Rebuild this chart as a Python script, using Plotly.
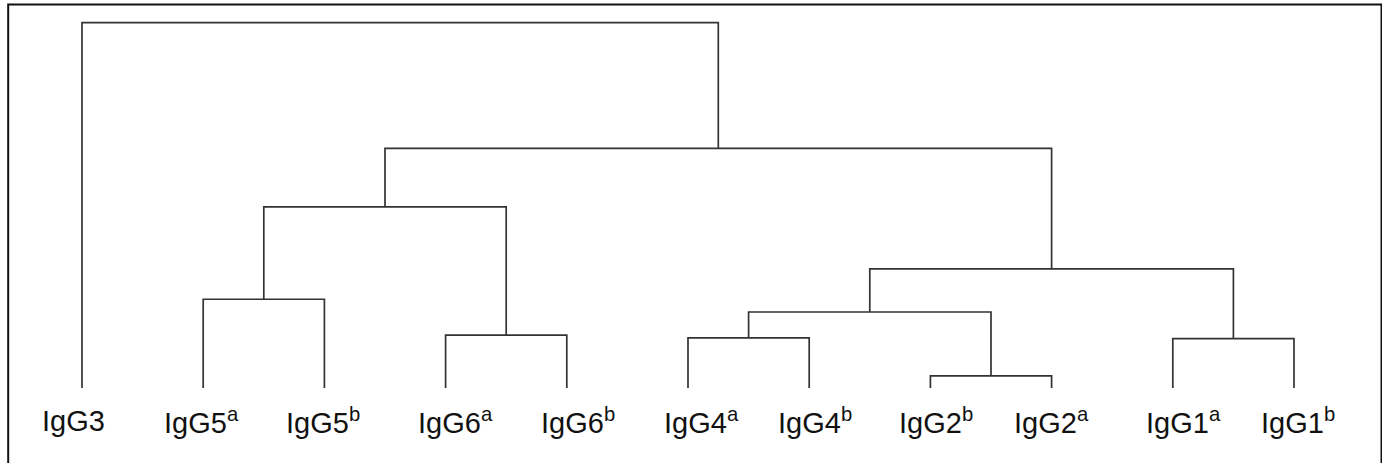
import plotly.graph_objects as go

# Leaf order (left to right) and labels
leaves = ["IgG3", "IgG5a", "IgG5b", "IgG6a", "IgG6b", "IgG4a", "IgG4b",
          "IgG2b", "IgG2a", "IgG1a", "IgG1b"]
labels = ["IgG3", "IgG5<sup>a</sup>", "IgG5<sup>b</sup>", "IgG6<sup>a</sup>",
          "IgG6<sup>b</sup>", "IgG4<sup>a</sup>", "IgG4<sup>b</sup>",
          "IgG2<sup>b</sup>", "IgG2<sup>a</sup>", "IgG1<sup>a</sup>",
          "IgG1<sup>b</sup>"]
# small horizontal offsets of the printed labels (pixels)
label_shift = [-9, -2, -1, 10, 11, 13, 6, 6, 0, 11, 4]

# Merges: (left child, right child, height); children are leaf names or node ids
merge_ids = ["n1", "n2", "n3", "n4", "n5", "n6", "n7", "n8", "n9", "n10"]
merge_left = ["IgG2b", "IgG1a", "IgG4a", "IgG6a", "IgG5a", "n3", "n6", "n5", "n8", "IgG3"]
merge_right = ["IgG2a", "IgG1b", "IgG4b", "IgG6b", "IgG5b", "n1", "n2", "n4", "n7", "n9"]
merge_height = [0.033, 0.135, 0.137, 0.145, 0.243, 0.208, 0.326, 0.496, 0.656, 1.0]

pos = {name: (i, 0.0) for i, name in enumerate(leaves)}
xs, ys = [], []
for nid, l, r, h in zip(merge_ids, merge_left, merge_right, merge_height):
    xl, hl = pos[l]
    xr, hr = pos[r]
    xs += [xl, xl, xr, xr, None]
    ys += [hl, h, h, hr, None]
    pos[nid] = ((xl + xr) / 2, h)

fig = go.Figure()
fig.add_trace(go.Scatter(x=xs, y=ys, mode="lines",
                         line=dict(color="#333333", width=1.7),
                         hoverinfo="skip", showlegend=False))

for i, lab in enumerate(labels):
    fig.add_annotation(x=i, y=-0.09, xref="x", yref="y", text=lab,
                       showarrow=False, xanchor="center", yanchor="middle",
                       xshift=label_shift[i],
                       font=dict(family="Liberation Sans, Arial, sans-serif",
                                 size=29, color="#111111"))

W, H = 1382, 463
fig.add_shape(type="rect", xref="paper", yref="paper",
              x0=8.2 / W, x1=1381.5 / W, y0=-0.05, y1=1 - 4.5 / H,
              line=dict(color="#111111", width=2))

fig.update_layout(
    width=W, height=H,
    margin=dict(l=0, r=0, t=0, b=0),
    paper_bgcolor="white", plot_bgcolor="white",
    xaxis=dict(range=[-82 / 121.2, (1382 - 82) / 121.2], visible=False),
    yaxis=dict(range=[-75 / 365.3, 388 / 365.3], visible=False),
)
fig.write_html("out.html",
               config={"displayModeBar": False},
               post_script="document.body.style.margin='0';"
                           "document.body.style.overflow='hidden';")
